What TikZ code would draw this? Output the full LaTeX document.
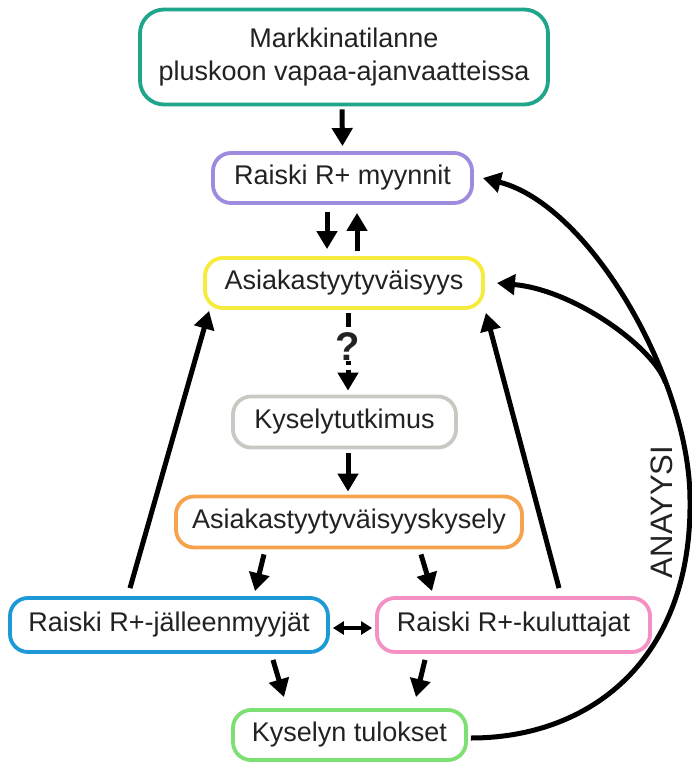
\documentclass[tikz,border=0pt]{standalone}
\usepackage{fontspec}
\setmainfont{Liberation Sans}
\usetikzlibrary{arrows.meta,calc}
\definecolor{cteal}{HTML}{1FA58A}
\definecolor{cpurple}{HTML}{9E8BE0}
\definecolor{cyellow}{HTML}{F5EC3E}
\definecolor{cgray}{HTML}{C9C9C4}
\definecolor{corange}{HTML}{F7A34E}
\definecolor{cblue}{HTML}{1D9AD6}
\definecolor{cpink}{HTML}{F590C4}
\definecolor{cgreen}{HTML}{7DE073}
\definecolor{ctext}{HTML}{222222}
\tikzset{
  box/.style={draw=#1, line width=3.8pt, rounded corners=18pt, fill=white,
    text=ctext, font=\fontsize{27}{33}\selectfont, align=center,
    inner sep=0pt, minimum height=50pt},
  arr/.style={line width=5pt, -{Triangle[length=18pt,width=20pt]}},
  darr/.style={line width=4pt, {Triangle[length=11pt,width=13pt]}-{Triangle[length=11pt,width=13pt]}},
  dasharr/.style={line width=5pt, dash pattern=on 14pt off 5pt, -{Triangle[length=18pt,width=20pt]}},
}
\begin{document}
\begin{tikzpicture}[x=1pt,y=-1pt]
\useasboundingbox (0,0) rectangle (691,763);
\node[box=cteal, rounded corners=24pt, minimum width=408pt, minimum height=95pt] (top) at (344,57)
  {Markkinatilanne\\pluskoon vapaa-ajanvaatteissa};
\node[box=cpurple, minimum width=259pt] (myyn) at (342.5,178) {Raiski R+ myynnit};
\node[box=cyellow, minimum width=278pt] (asiak) at (344,283) {Asiakastyytyväisyys};
\node[box=cgray, minimum width=223pt, minimum height=51pt] (kysely) at (344.5,422) {Kyselytutkimus};
\node[box=corange, minimum width=346pt, minimum height=51pt] (akysely) at (349,522) {Asiakastyytyväisyyskysely};
\node[box=cblue, minimum width=318pt, minimum height=54pt] (jm) at (169,625) {Raiski R+-jälleenmyyjät};
\node[box=cpink, minimum width=273pt, minimum height=54pt] (kul) at (513.5,625) {Raiski R+-kuluttajat};
\node[box=cgreen, minimum width=233pt] (tul) at (349.5,735) {Kyselyn tulokset};

% vertical flow
\draw[arr] ($(top.south)+(-2,3)$) -- ($(myyn.north)+(0,-5)$);
\draw[arr] ($(myyn.south)+(-15.5,7)$) -- ($(asiak.north)+(-17,-7)$);
\draw[arr] ($(asiak.north)+(13,-5)$) -- ($(myyn.south)+(14.5,8)$);
\draw[dasharr] ($(asiak.south)+(4,3)$) -- ($(kysely.north)+(3.5,-4)$)
  node[pos=0.43, fill=white, inner sep=1pt, text=ctext, font=\fontsize{40}{40}\selectfont\bfseries] (q) {?};
\draw[arr] ($(kysely.south)+(3.5,4)$) -- ($(akysely.north)+(-1,-3)$);
\draw[arr] ($(akysely.south)+(-85,5)$) -- ($(jm.north)+(86,-5)$);
\draw[arr] ($(akysely.south)+(72,5)$) -- ($(kul.north)+(-81.5,-5)$);
\draw[darr] ($(jm.east)+(3,3)$) -- ($(kul.west)+(-3,3)$);
\draw[arr] ($(jm.south)+(104,6)$) -- ($(tul.north)+(-65.5,-11)$);
\draw[arr] ($(kul.south)+(-88.5,6)$) -- ($(tul.north)+(66.5,-11)$);

% long feedback arrows
\draw[arr] ($(jm.north)+(-39,-8)$) -- ($(asiak.south west)+(6,1)$);
\draw[arr] ($(kul.north)+(45.5,-8)$) -- ($(asiak.south east)+(1,3)$);

% analysis curves
\draw[arr] ($(tul.east)+(3,3)$) .. controls (590,738) and (692,660) .. (690,500)
  .. controls (690,380) and (590,205) .. coordinate[pos=0.3] (split) ($(myyn.east)+(9,0)$);
\draw[arr] (split) .. controls (654,348) and (575,290) .. ($(asiak.east)+(12,0)$);

\node[rotate=90, text=ctext, font=\fontsize{31}{31}\selectfont] (anal) at (662,512) {ANAYYSI};
\end{tikzpicture}
\end{document}
